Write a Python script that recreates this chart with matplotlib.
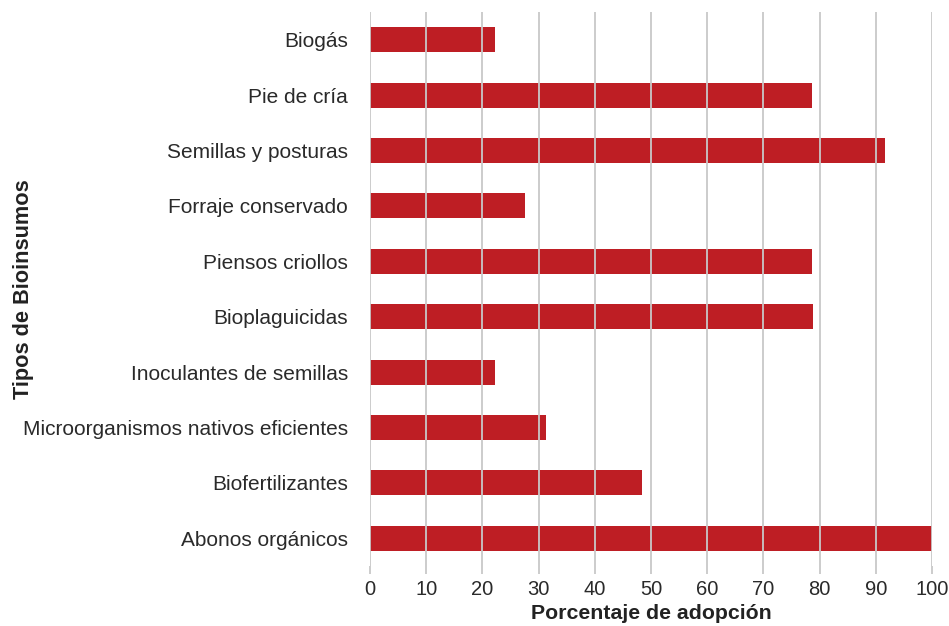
import numpy as np
import matplotlib.pyplot as plt

plt.rcParams['font.family'] = ['Liberation Sans', 'DejaVu Sans']

# === 数据 ===
categorias = ["Abonos orgánicos", "Biofertilizantes", "Microorganismos nativos eficientes",
              "Inoculantes de semillas", "Bioplaguicidas", "Piensos criollos",
              "Forraje conservado", "Semillas y posturas", "Pie de cría", "Biogás"]
adopcion = [100, 48.4, 31.3, 22.2, 78.8, 78.6, 27.6, 91.6, 78.6, 22.2]
xticks = [0, 10, 20, 30, 40, 50, 60, 70, 80, 90, 100]

fig = plt.figure(figsize=(9.49, 6.26), dpi=100)
ax = fig.add_axes([370 / 949, 60 / 626, 562 / 949, 554 / 626])

y = np.arange(len(categorias))
ax.barh(y, adopcion, height=0.45, color='#BE1E24', zorder=1)

ax.set_xlim(0, 100)
ax.set_ylim(-0.5, len(categorias) - 0.5)
ax.set_xticks(xticks)
ax.set_yticks(y, labels=categorias)

for s in ax.spines.values():
    s.set_visible(False)
ax.grid(axis='x', color='#C8C8C8', linewidth=1.3, zorder=2)
ax.set_axisbelow(False)
ax.tick_params(axis='x', length=6, width=1.3, color='#C8C8C8', labelsize=14.5, labelcolor='#2a2a2a', pad=4)
ax.tick_params(axis='y', length=0, labelsize=15.0, labelcolor='#2a2a2a', pad=16)

ax.set_xlabel("Porcentaje de adopción", fontsize=15.3, fontweight='bold', color='#222222', va='center')
ax.set_ylabel("Tipos de Bioinsumos", fontsize=15.7, fontweight='bold', color='#222222', va='center')
ax.xaxis.set_label_coords(0.5, -0.086)
ax.yaxis.set_label_coords(-0.617, 0.5)

fig.savefig("out.png", dpi=100)
